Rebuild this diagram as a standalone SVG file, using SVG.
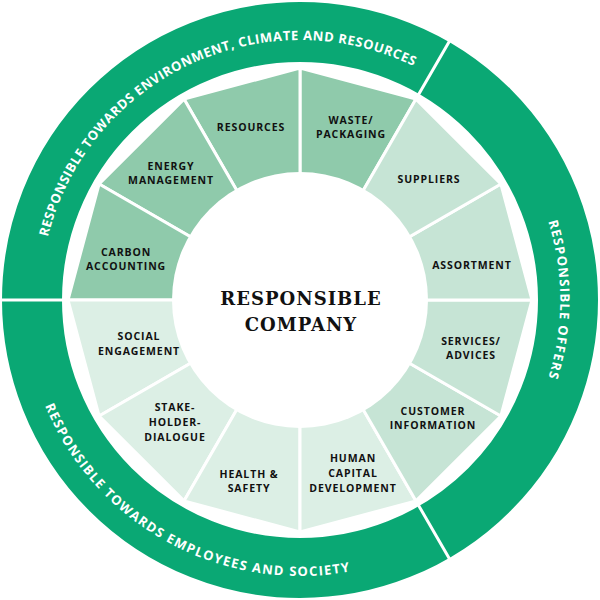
<svg xmlns="http://www.w3.org/2000/svg" width="600" height="600" viewBox="0 0 600 600">
<style>
.w{stroke:#fff;stroke-width:3;stroke-linejoin:round}
.env{fill:#8fcaab}.off{fill:#c6e4d5}.emp{fill:#dcefe5}
.lbl{font-family:"Open Sans","Liberation Sans",sans-serif;font-weight:bold;font-size:10.5px;letter-spacing:0.9px;fill:#111;text-anchor:middle}
.arc{font-family:"Open Sans","Liberation Sans",sans-serif;font-weight:bold;font-size:13px;fill:#fff;text-anchor:middle}
.ctr{font-family:"DejaVu Serif","Liberation Serif",serif;font-weight:bold;font-size:18px;letter-spacing:1px;fill:#111;text-anchor:middle}
</style>
<defs>
<path id="pTop" d="M48.9,367.3 A260,260 0 0 1 513,150.9"/>
<path id="pBot" d="M40.6,205.6 A276,276 0 0 0 511.4,477.4"/>
<path id="pOff" d="M345.1,43.9 A260,260 0 0 1 345.1,556.1"/>
</defs>
<g id="ring">
<circle cx="300" cy="300" r="268" fill="none" stroke="#0aa874" stroke-width="60"/>
<path d="M418,95.6 L451,38.5 M64,300 L0,300 M418,504.4 L451,561.5" stroke="#fff" stroke-width="3"/>
<text class="arc" letter-spacing="0.6"><textPath href="#pTop" startOffset="50%">RESPONSIBLE TOWARDS ENVIRONMENT, CLIMATE AND RESOURCES</textPath></text>
<text class="arc" letter-spacing="1.3"><textPath href="#pBot" startOffset="51%">RESPONSIBLE TOWARDS EMPLOYEES AND SOCIETY</textPath></text>
<text class="arc" letter-spacing="1.2"><textPath href="#pOff" startOffset="50%">RESPONSIBLE OFFERS</textPath></text>
</g>
<g id="segments">
<path id="waste" class="env w" d="M300,300 L300,68 L416,99.1 Z"/>
<path id="resources" class="env w" d="M300,300 L184,99.1 L300,68 Z"/>
<path id="energy" class="env w" d="M300,300 L99.1,184 L184,99.1 Z"/>
<path id="carbon" class="env w" d="M300,300 L68,300 L99.1,184 Z"/>
<path id="social" class="emp w" d="M300,300 L99.1,416 L68,300 Z"/>
<path id="stake" class="emp w" d="M300,300 L184,500.9 L99.1,416 Z"/>
<path id="health" class="emp w" d="M300,300 L300,532 L184,500.9 Z"/>
<path id="human" class="emp w" d="M300,300 L416,500.9 L300,532 Z"/>
<path id="customer" class="off w" d="M300,300 L500.9,416 L416,500.9 Z"/>
<path id="services" class="off w" d="M300,300 L532,300 L500.9,416 Z"/>
<path id="assortment" class="off w" d="M300,300 L500.9,184 L532,300 Z"/>
<path id="suppliers" class="off w" d="M300,300 L416,99.1 L500.9,184 Z"/>
<circle cx="300" cy="300" r="128" fill="#fff"/>
</g>
<g id="labels">
<text class="lbl" x="251" y="131">RESOURCES</text>
<text class="lbl" x="351" y="124">WASTE/</text><text class="lbl" x="351" y="138">PACKAGING</text>
<text class="lbl" x="171" y="170">ENERGY</text><text class="lbl" x="171" y="184">MANAGEMENT</text>
<text class="lbl" x="126" y="256">CARBON</text><text class="lbl" x="126" y="270">ACCOUNTING</text>
<text class="lbl" x="429" y="183">SUPPLIERS</text>
<text class="lbl" x="472" y="269">ASSORTMENT</text>
<text class="lbl" x="471" y="345">SERVICES/</text><text class="lbl" x="471" y="359">ADVICES</text>
<text class="lbl" x="433" y="415">CUSTOMER</text><text class="lbl" x="433" y="429">INFORMATION</text>
<text class="lbl" x="353" y="462">HUMAN</text><text class="lbl" x="353" y="477">CAPITAL</text><text class="lbl" x="353" y="492">DEVELOPMENT</text>
<text class="lbl" x="249" y="478">HEALTH &amp;</text><text class="lbl" x="249" y="492">SAFETY</text>
<text class="lbl" x="175" y="411">STAKE-</text><text class="lbl" x="175" y="426">HOLDER-</text><text class="lbl" x="175" y="441">DIALOGUE</text>
<text class="lbl" x="139" y="340">SOCIAL</text><text class="lbl" x="139" y="355">ENGAGEMENT</text>
</g>
<g id="center">
<text class="ctr" x="301" y="305">RESPONSIBLE</text>
<text class="ctr" x="301" y="331">COMPANY</text>
</g>
</svg>
